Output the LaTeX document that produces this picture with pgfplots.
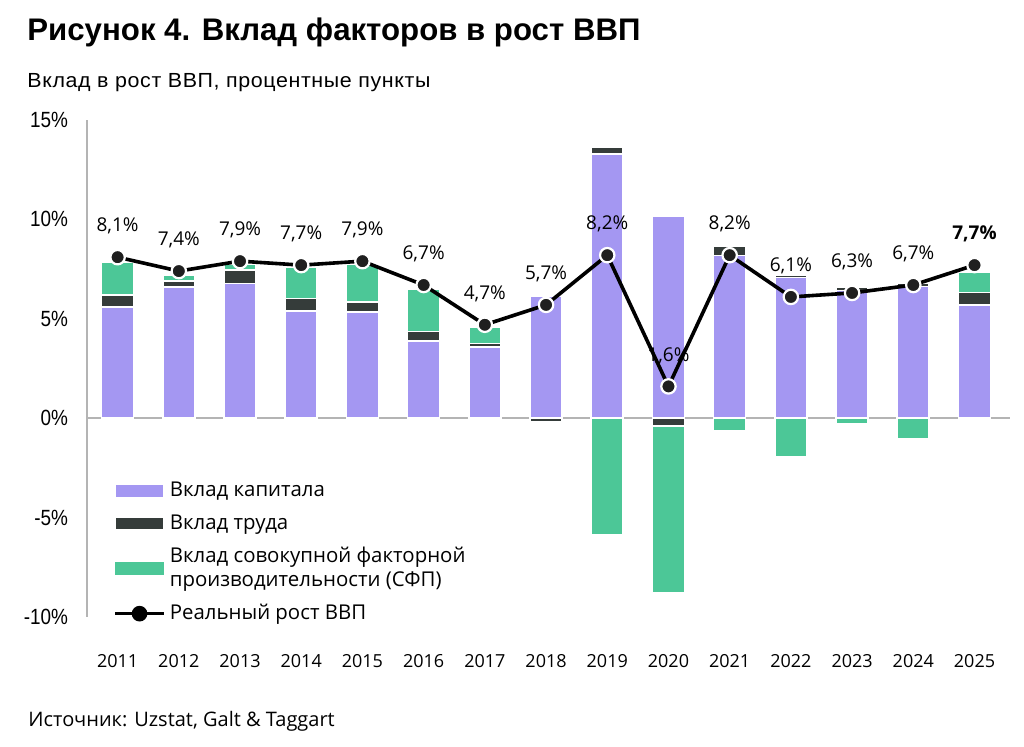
\documentclass[border=0pt]{standalone}
\usepackage{fontspec}
\setmainfont{Open Sans}
\newfontfamily\titlefont{Liberation Sans}
\newfontfamily\subfont[FakeStretch=1.05, LetterSpace=3]{Liberation Sans}
\newfontfamily\tickfont[FakeStretch=0.86]{Liberation Sans}
\usepackage{pgfplots}
\usepackage{pgfplotstable}
\pgfplotsset{compat=1.18}
\definecolor{cap}{HTML}{A497F2}
\definecolor{lab}{HTML}{353C3A}
\definecolor{tfp}{HTML}{4CC797}
\definecolor{axisgray}{HTML}{B4B4B4}
\pgfplotstableread{
idx cap lab tfp gdp
0  5.60  0.60  1.65 8.1
1  6.60  0.30  0.30 7.4
2  6.77  0.67  0.33 7.9
3  5.40  0.62  1.58 7.7
4  5.33  0.50  1.90 7.9
5  3.87  0.50  2.10 6.7
6  3.58  0.17  0.84 4.7
7  6.13 -0.20  0.00 5.7
8 13.30  0.33 -5.88 8.2
9 10.15 -0.40 -8.40 1.6
10 8.19  0.45 -0.62 8.2
11 7.07  0.10 -1.93 6.1
12 6.43  0.15 -0.30 6.3
13 6.63  0.15 -1.05 6.7
14 5.68  0.65  1.00 7.7
}\data
\begin{document}
\begin{tikzpicture}
\path[use as bounding box, fill=white] (0,0) rectangle (512pt,-373.5pt);
\node[anchor=base west, inner sep=0pt, font=\titlefont\bfseries\fontsize{15.6pt}{18pt}\selectfont] at (13.5pt,-20.4pt) {Рисунок 4. Вклад факторов в рост ВВП};
\node[anchor=base west, inner sep=0pt, font=\subfont\fontsize{10.2pt}{12pt}\selectfont] at (13.5pt,-43.6pt) {Вклад в рост ВВП, процентные пункты};
\node[anchor=base west, inner sep=0pt, font=\fontsize{10pt}{12pt}\selectfont] at (14pt,-363.5pt) {Источник: Uzstat, Galt \& Taggart};
\begin{axis}[
  at={(43.5pt,-308.5pt)}, anchor=south west,
  scale only axis, width=461.5pt, height=248.5pt,
  xmin=-0.5, xmax=14.58, ymin=-10, ymax=15,
  axis y line*=left, axis x line*=bottom,
  x axis line style={draw=none},
  y axis line style={axisgray, line width=0.8pt},
  major tick length=0pt, tick style={draw=none},
  /pgf/number format/assume math mode=true,
  xtick={0,...,14},
  xticklabels={2011,2012,2013,2014,2015,2016,2017,2018,2019,2020,2021,2022,2023,2024,2025},
  xticklabel style={font=\fontsize{9pt}{11pt}\selectfont, yshift=-15pt},
  ytick={-10,-5,0,5,10,15},
  yticklabels={-10\%,-5\%,0\%,5\%,10\%,15\%},
  yticklabel style={font=\tickfont\fontsize{11pt}{12pt}\selectfont, xshift=-6pt},
  extra y ticks={0}, extra y tick labels={},
  extra y tick style={grid=major, grid style={axisgray, line width=1pt}},
  ybar, bar width=16pt, bar shift=0pt,
  unbounded coords=discard,
  legend style={at={(0.028,0.28)}, anchor=north west, draw=none, fill=none,
    font=\fontsize{10.2pt}{11.8pt}\selectfont, cells={align=left, anchor=west},
    row sep=3.5pt, inner sep=0pt},
  legend cell align=left,
  legend image code/.code={\fill[#1] (0pt,-3.25pt) rectangle (24.5pt,3.25pt);},
  clip=false,
]
% positive stack (drawn tallest first)
\addplot[fill=tfp, draw=white, line width=0.8pt, forget plot,
  y filter/.expression={y==0 ? nan : y}]
  table[x=idx, y expr={\thisrow{cap}+max(\thisrow{lab},0)+max(\thisrow{tfp},0)}]{\data};
\addplot[fill=lab, draw=white, line width=0.8pt, forget plot]
  table[x=idx, y expr={\thisrow{cap}+max(\thisrow{lab},0)}]{\data};
\addplot[fill=cap, draw=white, line width=0.8pt]
  table[x=idx, y=cap]{\data};
\addlegendentry{Вклад капитала}
% negative stack
\addplot[fill=tfp, draw=white, line width=0.8pt, forget plot,
  y filter/.expression={y==0 ? nan : y}]
  table[x=idx, y expr={min(\thisrow{lab},0)+min(\thisrow{tfp},0)}]{\data};
\addplot[fill=lab, draw=white, line width=0.8pt,
  y filter/.expression={y==0 ? nan : y}]
  table[x=idx, y expr={min(\thisrow{lab},0)}]{\data};
\addlegendentry{Вклад труда}
\addlegendimage{fill=tfp, draw=none}
\addlegendentry{Вклад совокупной факторной\\производительности (СФП)}
% GDP line
\addplot[sharp plot, black, line width=1.8pt, mark=none,
  legend image code/.code={\draw[black, line width=1.8pt] (0pt,0pt) -- (9pt,0pt); \draw[black, line width=1.8pt] (15.5pt,0pt) -- (24.5pt,0pt); \fill[black] (12.25pt,0pt) circle (3pt);}]
  table[x=idx, y=gdp]{\data};
\addlegendentry{Реальный рост ВВП}
\addplot[only marks, mark=*, mark size=3.6pt,
  mark options={fill=black!88, draw=white, line width=1.1pt}, forget plot]
  table[x=idx, y=gdp]{\data};
\addplot[only marks, mark=none, forget plot,
  nodes near coords={\pgfmathprintnumber[fixed, fixed zerofill, precision=1, use comma]{\pgfplotspointmeta}\%},
  point meta=y,
  every node near coord/.style={anchor=center, yshift=15.5pt, font=\fontsize{9.5pt}{11pt}\selectfont, black},
  x filter/.expression={x==14 ? nan : x}]
  table[x=idx, y=gdp]{\data};
\addplot[only marks, mark=none, forget plot,
  nodes near coords={\pgfmathprintnumber[fixed, fixed zerofill, precision=1, use comma]{\pgfplotspointmeta}\%},
  point meta=y,
  every node near coord/.style={anchor=center, yshift=15.5pt, font=\bfseries\fontsize{9.5pt}{11pt}\selectfont, black},
  x filter/.expression={x<14 ? nan : x}]
  table[x=idx, y=gdp]{\data};
\end{axis}
\end{tikzpicture}
\end{document}
